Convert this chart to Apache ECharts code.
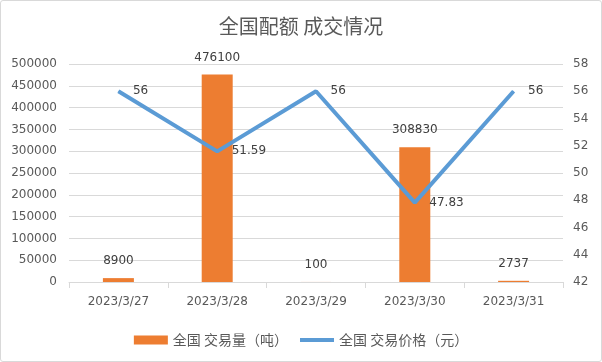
<!DOCTYPE html>
<html>
<head>
<meta charset="utf-8">
<script src="https://cdn.jsdelivr.net/npm/echarts@6/dist/echarts.min.js"></script>
<style>
html,body{margin:0;padding:0;background:#fff;}
#c{width:602px;height:362px;position:absolute;left:0;top:0;}
#b{position:absolute;left:0;top:0;width:600px;height:360px;border:1px solid #d9d9d9;border-radius:3px;pointer-events:none;}
</style>
</head>
<body>
<div id="c"></div>
<div id="b"></div>
<script>
const categories = ['2023/3/27', '2023/3/28', '2023/3/29', '2023/3/30', '2023/3/31'];
const volume = [8900, 476100, 100, 308830, 2737];
const price = [56, 51.59, 56, 47.83, 56];
const volumeName = '全国 交易量（吨）';
const priceName = '全国 交易价格（元）';
const titleText = '全国配额 成交情况';

const chart = echarts.init(document.getElementById('c'));
const txt = '#595959';
const numFont = 'DejaVu Sans';
chart.setOption({
  animation: false,
  backgroundColor: '#fff',
  title: {
    text: titleText, left: 'center', top: 11,
    textStyle: { fontFamily: 'Noto Sans CJK SC', fontSize: 20, fontWeight: 'normal', color: txt }
  },
  legend: {
    top: 328, left: 'center', itemWidth: 34, itemHeight: 9, itemGap: 10,
    textStyle: { fontFamily: 'Noto Sans CJK SC', fontSize: 14, color: txt },
    data: [
      { name: volumeName, icon: 'rect' },
      { name: priceName, itemStyle: { opacity: 0 }, lineStyle: { width: 4, color: '#5B9BD5' } }
    ]
  },
  grid: { left: 69, right: 39, top: 64, bottom: 80, containLabel: false },
  xAxis: {
    type: 'category', data: categories,
    axisLine: { lineStyle: { color: '#d9d9d9', width: 1 } },
    axisTick: { show: true, length: 6, lineStyle: { color: '#d9d9d9' } },
    axisLabel: { color: txt, fontFamily: numFont, fontSize: 12, margin: 14 }
  },
  yAxis: [
    {
      type: 'value', min: 0, max: 500000, interval: 50000,
      axisLine: { show: false }, axisTick: { show: false },
      axisLabel: { color: txt, fontFamily: numFont, fontSize: 12, margin: 12, formatter: v => String(v) },
      splitLine: { lineStyle: { color: '#d9d9d9', width: 1 } }
    },
    {
      type: 'value', min: 42, max: 58, interval: 2,
      axisLine: { show: false }, axisTick: { show: false },
      axisLabel: { color: txt, fontFamily: numFont, fontSize: 12, margin: 10, formatter: v => String(v) },
      splitLine: { show: false }
    }
  ],
  series: [
    {
      name: volumeName, type: 'bar', data: volume, barWidth: 31,
      itemStyle: { color: '#ED7D31' },
      label: { show: true, position: 'top', distance: 11, color: '#404040', fontFamily: numFont, fontSize: 12 }
    },
    {
      name: priceName, type: 'line', yAxisIndex: 1, data: price,
      symbol: 'circle', symbolSize: 1,
      lineStyle: { color: '#5B9BD5', width: 4 },
      itemStyle: { color: '#5B9BD5' },
      label: { show: true, position: 'right', distance: 14, color: '#404040', fontFamily: numFont, fontSize: 12 }
    }
  ]
});
</script>
</body>
</html>
